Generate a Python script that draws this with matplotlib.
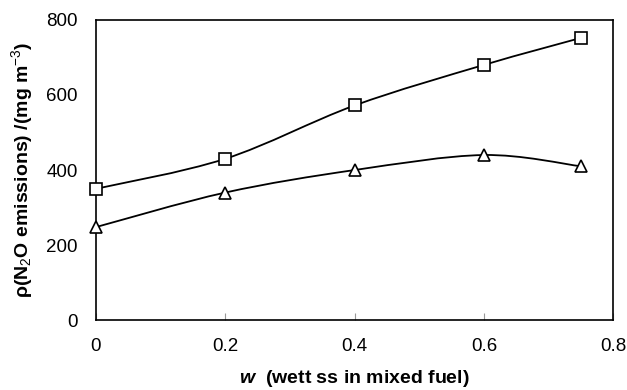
import numpy as np
import matplotlib
matplotlib.use("Agg")
import matplotlib.pyplot as plt
from matplotlib.path import Path
from matplotlib.patches import PathPatch

plt.rcParams["font.family"] = ["Liberation Sans", "DejaVu Sans"]
plt.rcParams["mathtext.fontset"] = "custom"
plt.rcParams["mathtext.rm"] = "Liberation Sans"
plt.rcParams["mathtext.it"] = "Liberation Sans:italic:bold"

# data
w = [0.0, 0.2, 0.4, 0.6, 0.75]
n2o_square = [350, 430, 572, 680, 752]
n2o_triangle = [248, 340, 400, 440, 410]


def smooth_path(x, y, tension=1 / 6):
    """Catmull-Rom style Bezier path through the points (Excel 'smoothed line')."""
    x = np.asarray(x, float)
    y = np.asarray(y, float)
    verts = [(x[0], y[0])]
    codes = [Path.MOVETO]
    n = len(x)
    for i in range(n - 1):
        x0, y0 = (x[i - 1], y[i - 1]) if i > 0 else (x[i], y[i])
        x3, y3 = (x[i + 2], y[i + 2]) if i + 2 < n else (x[i + 1], y[i + 1])
        c1 = (x[i] + (x[i + 1] - x0) * tension, y[i] + (y[i + 1] - y0) * tension)
        c2 = (x[i + 1] - (x3 - x[i]) * tension, y[i + 1] - (y3 - y[i]) * tension)
        verts += [c1, c2, (x[i + 1], y[i + 1])]
        codes += [Path.CURVE4] * 3
    return Path(verts, codes)


fig = plt.figure(figsize=(6.27, 3.9), dpi=100)
ax = fig.add_axes([0.153, 0.179, 0.825, 0.770])

for ys, mk in [(n2o_square, "s"), (n2o_triangle, "^")]:
    ax.add_patch(PathPatch(smooth_path(w, ys), fill=False, edgecolor="black", lw=1.3, zorder=2))
    ax.plot(w, ys, ls="none", marker=mk, ms=9, mfc="white", mec="black", mew=1.2, zorder=3,
            clip_on=False)

ax.set_xlim(0, 0.8)
ax.set_ylim(0, 800)
ax.set_xticks([0, 0.2, 0.4, 0.6, 0.8])
ax.set_xticklabels(["0", "0.2", "0.4", "0.6", "0.8"])
ax.set_yticks([0, 200, 400, 600, 800])
ax.tick_params(axis="x", direction="in", length=5, color="#999999", pad=13, labelsize=13.5)
ax.tick_params(axis="y", length=0, pad=13, labelsize=13.5)
for s in ax.spines.values():
    s.set_linewidth(1.2)

ax.set_xlabel(r"$w$  (wett ss in mixed fuel)", fontsize=14, fontweight="bold", labelpad=9)
ax.set_ylabel(r"ρ(N$_2$O emissions) /(mg m$^{-3}$)", fontsize=14, fontweight="bold", labelpad=8)

fig.savefig("out.png", dpi=100)
